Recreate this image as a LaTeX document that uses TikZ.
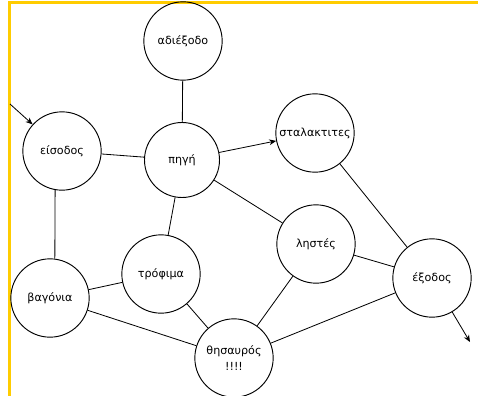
\documentclass[tikz,border=0pt]{standalone}
\usepackage{fontspec}
\setmainfont{DejaVu Sans}
\usetikzlibrary{arrows.meta}
\definecolor{frameyellow}{RGB}{255,204,0}
\begin{document}
\begin{tikzpicture}[x=0.03cm, y=-0.03cm,
  place/.style={circle, draw, line width=0.8pt, minimum size=2.35cm, inner sep=0pt, font=\fontsize{9.5}{13}\selectfont},
  link/.style={line width=0.7pt},
  >={Stealth[length=6pt, width=5pt]}]
  \useasboundingbox (0,0) rectangle (478,396);
  % Frame
  \draw[frameyellow, line width=3pt] (9.5,396) -- (9.5,2.5) -- (478,2.5);
  % Nodes
  \node (adiexodo) [place] at (183,41) {αδιέξοδο};
  \node (eisodos) [place] at (62,151) {είσοδος};
  \node (pigi) [place, minimum size=2.25cm] at (182,160) {πηγή};
  \node (stalaktites) [place] at (315,133) {σταλακτιτες};
  \node (listes) [place] at (316,244) {ληστές};
  \node (exodos) [place] at (432,278) {έξοδος};
  \node (trofima) [place] at (161,274) {τρόφιμα};
  \node (vagonia) [place] at (50,298) {βαγόνια};
  \node (thisavros) [place, align=center] at (234,358) {θησαυρός\\!!!!};
  \coordinate (in) at (10,104);
  \coordinate (out) at (470,342);
  % Arrow
  \draw[link, ->] (in) -- (eisodos);
  \draw[link, ->] (pigi) -- (stalaktites);
  \draw[link, ->] (exodos) -- (out);
  % Edges
  \draw[link] (eisodos) -- (pigi);
  \draw[link] (adiexodo) -- (pigi);
  \draw[link] (stalaktites) -- (exodos);
  \draw[link] (pigi) -- (listes);
  \draw[link] (pigi) -- (trofima);
  \draw[link] (eisodos.-100) -- (vagonia.83);
  \draw[link] (vagonia) -- (trofima);
  \draw[link] (vagonia) -- (thisavros);
  \draw[link] (trofima) -- (thisavros);
  \draw[link] (listes) -- (thisavros);
  \draw[link] (listes) -- (exodos);
  \draw[link] (thisavros) -- (exodos);
\end{tikzpicture}
\end{document}
